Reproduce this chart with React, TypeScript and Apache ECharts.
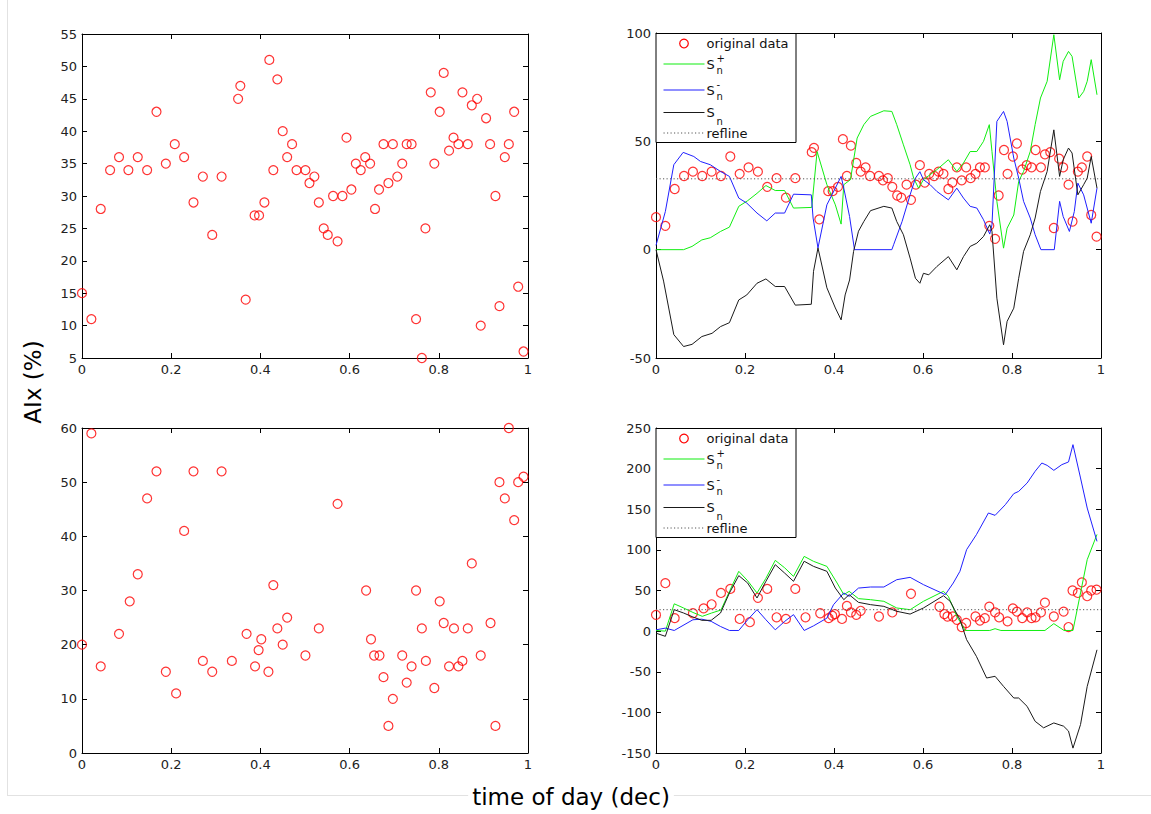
import React, { useEffect, useRef } from "react";
import * as echarts from "echarts";

// ---------- data: day 1 (top row) ----------
const t1 = [0, 0.021, 0.042, 0.063, 0.083, 0.104, 0.125, 0.146, 0.167, 0.188, 0.208, 0.229, 0.25, 0.271, 0.292, 0.313, 0.35, 0.355, 0.367, 0.387, 0.397, 0.409, 0.42, 0.429, 0.438, 0.45, 0.46, 0.471, 0.481, 0.501, 0.51, 0.521, 0.531, 0.542, 0.551, 0.563, 0.573, 0.584, 0.593, 0.604, 0.614, 0.625, 0.635, 0.646, 0.657, 0.666, 0.676, 0.687, 0.697, 0.707, 0.718, 0.728, 0.739, 0.749, 0.762, 0.77, 0.782, 0.79, 0.802, 0.811, 0.823, 0.833, 0.844, 0.853, 0.865, 0.874, 0.886, 0.894, 0.906, 0.915, 0.927, 0.936, 0.948, 0.957, 0.969, 0.978, 0.99];
const aix1 = [15, 11, 28, 34, 36, 34, 36, 34, 43, 35, 38, 36, 29, 33, 24, 33, 45, 47, 14, 27, 27, 29, 51, 34, 48, 40, 36, 38, 34, 34, 32, 33, 29, 25, 24, 30, 23, 30, 39, 31, 35, 34, 36, 35, 28, 31, 38, 32, 38, 33, 35, 38, 38, 11, 5, 25, 46, 35, 43, 49, 37, 39, 38, 46, 38, 44, 45, 10, 42, 38, 30, 13, 36, 38, 43, 16, 6];
const ref1 = 32.7;

const sPlus1X = [0, 0.062, 0.081, 0.103, 0.122, 0.145, 0.165, 0.186, 0.206, 0.227, 0.247, 0.268, 0.289, 0.309, 0.35, 0.362, 0.384, 0.403, 0.416, 0.422, 0.437, 0.452, 0.467, 0.482, 0.512, 0.53, 0.541, 0.556, 0.571, 0.579, 0.59, 0.601, 0.616, 0.631, 0.657, 0.676, 0.691, 0.706, 0.721, 0.736, 0.749, 0.755, 0.766, 0.781, 0.789, 0.804, 0.815, 0.826, 0.841, 0.852, 0.864, 0.879, 0.894, 0.907, 0.915, 0.927, 0.935, 0.95, 0.961, 0.969, 0.978, 0.991];
const sPlus1Y = [0, 0, 1.5, 4.5, 5.5, 8.4, 10.4, 20, 22.6, 26, 29.6, 27.3, 27.3, 19.2, 19.5, 45.3, 30, 20.7, 11.8, 30, 32.3, 51.5, 57.7, 61.5, 64.1, 63.8, 57.7, 48.4, 39.2, 33, 28.4, 32.3, 34.6, 36.9, 41.5, 36.1, 40, 45.3, 45.3, 50, 57.7, 45.3, 22.3, 0.7, 9.9, 16, 31.5, 36.1, 45.3, 57.7, 70, 77.7, 99.2, 78.4, 86.9, 91.5, 89.2, 70, 73, 77.7, 87.7, 71.5];

const sMinus1X = [0, 0.021, 0.04, 0.061, 0.085, 0.1, 0.122, 0.145, 0.165, 0.186, 0.204, 0.227, 0.249, 0.268, 0.289, 0.309, 0.349, 0.353, 0.364, 0.384, 0.403, 0.416, 0.422, 0.435, 0.446, 0.53, 0.534, 0.553, 0.571, 0.583, 0.593, 0.601, 0.616, 0.631, 0.657, 0.676, 0.691, 0.706, 0.721, 0.736, 0.75, 0.755, 0.766, 0.781, 0.789, 0.804, 0.815, 0.826, 0.841, 0.852, 0.865, 0.895, 0.907, 0.915, 0.929, 0.94, 0.948, 0.961, 0.978, 0.991];
const sMinus1Y = [2, 17.6, 39.2, 44.9, 43, 40.7, 39.2, 36.1, 33.8, 23.8, 21.5, 16.9, 13.3, 16.9, 16.9, 25.6, 25.3, 14.6, 0.8, 20.7, 28.4, 33.8, 28.4, 15.3, 0, 0, 2.3, 13, 25.3, 33, 36, 32.3, 30, 26.9, 23, 28.4, 23.8, 20, 19.2, 13.8, 7.2, 11.5, 59.2, 63.8, 59.2, 42.3, 33, 22.3, 14.6, 6.9, 0, 0, 22.3, 15.3, 8.4, 17.6, 30.7, 25.3, 12.2, 28.4];

const sN1X = [0, 0.017, 0.04, 0.062, 0.081, 0.103, 0.126, 0.145, 0.165, 0.186, 0.204, 0.227, 0.247, 0.268, 0.289, 0.313, 0.349, 0.354, 0.364, 0.384, 0.403, 0.416, 0.425, 0.435, 0.444, 0.455, 0.467, 0.482, 0.512, 0.53, 0.541, 0.556, 0.571, 0.583, 0.593, 0.601, 0.613, 0.631, 0.657, 0.676, 0.691, 0.706, 0.721, 0.736, 0.75, 0.755, 0.766, 0.781, 0.789, 0.804, 0.815, 0.826, 0.841, 0.852, 0.864, 0.879, 0.894, 0.907, 0.915, 0.927, 0.935, 0.948, 0.961, 0.969, 0.978, 0.991];
const sN1Y = [0, -14.5, -39.2, -44.7, -43.7, -40.1, -38.6, -35.5, -33.7, -23.2, -20.9, -15.5, -13.5, -17, -17, -25.6, -25.2, -10, 0.8, -17.6, -26.9, -32.4, -20.9, -14, -0.8, 8.5, 13, 18, 20, 19.2, 13, 6.9, -3.9, -13.2, -15.5, -10.9, -11.6, -7.8, -3.2, -9.3, -3.2, 1.5, 3, 6.1, 11.5, 8.5, -22.4, -43.9, -33.1, -27, -13.2, -0.8, 6.9, 14.6, 26.9, 36.1, 55.3, 33.8, 41.5, 46.9, 44.6, 25.3, 30, 33, 43, 28.4];

// ---------- data: day 2 (bottom row) ----------
const t2 = [0, 0.021, 0.042, 0.083, 0.107, 0.125, 0.146, 0.167, 0.188, 0.211, 0.229, 0.25, 0.271, 0.292, 0.313, 0.336, 0.369, 0.388, 0.396, 0.402, 0.418, 0.429, 0.438, 0.45, 0.46, 0.501, 0.531, 0.573, 0.637, 0.648, 0.655, 0.667, 0.676, 0.687, 0.697, 0.718, 0.728, 0.739, 0.749, 0.762, 0.771, 0.79, 0.802, 0.811, 0.823, 0.834, 0.844, 0.853, 0.865, 0.874, 0.894, 0.916, 0.927, 0.936, 0.948, 0.957, 0.969, 0.978, 0.99];
const aix2 = [20, 59, 16, 22, 28, 33, 47, 52, 15, 11, 41, 52, 17, 15, 52, 17, 22, 16, 19, 21, 15, 31, 23, 20, 25, 18, 23, 46, 30, 21, 18, 18, 14, 5, 10, 18, 13, 16, 30, 23, 17, 12, 28, 24, 16, 23, 16, 17, 23, 35, 18, 24, 5, 50, 47, 60, 43, 50, 51];
const ref2 = 26.4;

const sPlus2X = [0, 0.021, 0.041, 0.062, 0.083, 0.104, 0.125, 0.146, 0.166, 0.186, 0.206, 0.227, 0.247, 0.268, 0.289, 0.309, 0.333, 0.354, 0.384, 0.407, 0.422, 0.434, 0.455, 0.482, 0.512, 0.541, 0.571, 0.601, 0.646, 0.657, 0.676, 0.695, 0.75, 0.762, 0.775, 0.874, 0.894, 0.917, 0.937, 0.954, 0.969, 0.991];
const sPlus2Y = [0.8, 0, 33.6, 28.5, 23, 18.2, 22.3, 26, 50, 73.6, 62, 46.9, 65, 87.1, 78, 67.4, 92, 85.9, 79.7, 59.2, 44.9, 49, 40, 38.7, 36.7, 28.5, 26.4, 36.7, 49, 42.8, 18.2, 0.8, 0.8, 3, 0.8, 0.8, 9.2, 0.8, 0.8, 47, 88, 119];

const sMinus2X = [0, 0.021, 0.041, 0.083, 0.103, 0.124, 0.145, 0.165, 0.186, 0.206, 0.227, 0.247, 0.268, 0.289, 0.309, 0.333, 0.354, 0.384, 0.399, 0.422, 0.434, 0.455, 0.482, 0.512, 0.541, 0.571, 0.601, 0.65, 0.668, 0.683, 0.698, 0.72, 0.747, 0.762, 0.785, 0.804, 0.815, 0.834, 0.852, 0.867, 0.879, 0.894, 0.912, 0.927, 0.937, 0.954, 0.969, 0.991];
const sMinus2Y = [1.6, 3.7, 0.8, 14, 14.7, 12, 5.7, 0.8, 0.8, 14, 26.4, 14, 1.6, 11.9, 20.3, 0.8, 6.5, 16, 32.6, 47, 42.8, 53, 54.3, 54.3, 63.3, 66.2, 57.2, 44.9, 59.2, 73.6, 100.3, 118.7, 145.4, 142.5, 155.6, 169.2, 172, 182.3, 196.7, 206.9, 204, 197.9, 204.9, 208.2, 229.5, 188.5, 151.5, 110.5];

const sN2X = [0, 0.021, 0.041, 0.062, 0.083, 0.103, 0.124, 0.145, 0.165, 0.186, 0.206, 0.227, 0.247, 0.268, 0.289, 0.309, 0.333, 0.354, 0.384, 0.403, 0.422, 0.434, 0.455, 0.482, 0.512, 0.541, 0.571, 0.601, 0.646, 0.661, 0.683, 0.698, 0.72, 0.743, 0.762, 0.781, 0.804, 0.815, 0.834, 0.852, 0.871, 0.894, 0.916, 0.927, 0.937, 0.954, 0.969, 0.991];
const sN2Y = [-2.5, -6.4, 26.4, 22.3, 17.4, 13.3, 13.3, 22.3, 47, 68.3, 59.2, 40.8, 61.3, 81.8, 71.5, 61.3, 86, 79.7, 73.6, 53, 38.7, 44.9, 35.4, 32.6, 30.5, 24.4, 21, 28.5, 43.6, 36.7, 14.1, -10.5, -31, -57.7, -55.6, -68, -82.3, -82.3, -92.6, -111, -119, -113, -117, -123, -144, -115, -68, -23];

// ---------- axes ----------
const xTicks = { min: 0, max: 1, interval: 0.2 };
const yRanges = [
  { min: 5, max: 55, interval: 5 },
  { min: -50, max: 100, interval: 50 },
  { min: 0, max: 60, interval: 10 },
  { min: -150, max: 250, interval: 50 },
];
const grids = [
  { left: 82, top: 34, width: 446, height: 324 },
  { left: 656, top: 33, width: 445, height: 325 },
  { left: 82, top: 428, width: 446, height: 325 },
  { left: 656, top: 428, width: 445, height: 325 },
];

const FONT = "DejaVu Sans";
const zip = (xs: number[], ys: number[]) => xs.map((x, i) => [x, ys[i]]);
const fmt = (v: number) => String(Math.round(v * 10) / 10);

function buildOption() {
  const GREEN = "#11ee11";
  const BLUE = "#2020ff";
  const BLACK = "#1a1a1a";

  const xAxis: any[] = [];
  const yAxis: any[] = [];
  const base = (gi: number) => ({
    type: "value",
    gridIndex: gi,
    splitLine: { show: false },
    axisLine: { show: true, onZero: false, lineStyle: { color: "#000", width: 1 } },
    axisTick: { show: true, inside: true, length: 5, lineStyle: { color: "#000", width: 1 } },
  });
  for (let i = 0; i < 4; i++) {
    xAxis.push({
      ...base(i), ...xTicks, position: "bottom",
      axisLabel: { margin: 5, color: "#222", fontSize: 13, fontFamily: FONT, formatter: fmt, showMinLabel: true, showMaxLabel: true },
    });
    yAxis.push({
      ...base(i), ...yRanges[i], position: "left",
      axisLabel: { margin: 5, color: "#222", fontSize: 13, fontFamily: FONT, showMinLabel: true, showMaxLabel: true },
    });
  }
  for (let i = 0; i < 4; i++) {
    xAxis.push({ ...base(i), ...xTicks, position: "top", axisLabel: { show: false } });
    yAxis.push({ ...base(i), ...yRanges[i], position: "right", axisLabel: { show: false } });
  }

  const scatter = (gi: number, xs: number[], ys: number[]) => ({
    type: "scatter", xAxisIndex: gi, yAxisIndex: gi,
    data: zip(xs, ys), symbol: "circle", symbolSize: 9,
    itemStyle: { color: "rgba(0,0,0,0)", borderColor: "#ff0000", borderWidth: 1.2 },
    z: 2,
  });
  const line = (gi: number, xs: number[], ys: number[], color: string) => ({
    type: "line", xAxisIndex: gi, yAxisIndex: gi, data: zip(xs, ys),
    symbol: "none", showSymbol: false, lineStyle: { color, width: 1 }, z: 3,
  });
  const refLine = (gi: number, v: number) => ({
    type: "line", xAxisIndex: gi, yAxisIndex: gi, data: [[0, v], [1, v]],
    symbol: "none", showSymbol: false, lineStyle: { color: "#555", width: 1, type: [1.2, 2.3] }, z: 3,
  });

  const series = [
    scatter(0, t1, aix1),
    scatter(1, t1, aix1),
    line(1, sPlus1X, sPlus1Y, GREEN),
    line(1, sMinus1X, sMinus1Y, BLUE),
    line(1, sN1X, sN1Y, BLACK),
    refLine(1, ref1),
    scatter(2, t2, aix2),
    scatter(3, t2, aix2),
    line(3, sPlus2X, sPlus2Y, GREEN),
    line(3, sMinus2X, sMinus2Y, BLUE),
    line(3, sN2X, sN2Y, BLACK),
    refLine(3, ref2),
  ];

  let uid = 0;
  const nid = () => "g" + uid++;
  const txt = (x: number, y: number, text: string, size: number) => ({
    type: "text", id: nid(), x, y, z: 101,
    style: { text, fontSize: size, fontFamily: FONT, fill: "#111", align: "left", verticalAlign: "middle", textAlign: "left", textVerticalAlign: "middle" },
  });
  const seg = (x1: number, y: number, x2: number, stroke: string, dash?: number[]) => ({
    type: "line", id: nid(), z: 102,
    shape: { x1, y1: y, x2, y2: y },
    style: { stroke, fill: "none", lineWidth: 1.2, ...(dash ? { lineDash: dash, lineWidth: 1 } : {}) },
  });
  const legend = (left: number, top: number) => {
    const els: any[] = [];
    els.push({ type: "rect", id: nid(), z: 100, shape: { x: left + 0.5, y: top + 0.5, width: 140, height: 109 }, style: { fill: "#fff", stroke: "#000", lineWidth: 1 } });
    els.push({ type: "circle", id: nid(), z: 101, shape: { cx: left + 28.5, cy: top + 10.5, r: 4.3 }, style: { fill: "none", stroke: "#ff0000", lineWidth: 1.2 } });
    els.push(txt(left + 51, top + 10.5, "original data", 13));
    els.push(seg(left + 8, top + 31, left + 49, "#11ee11"));
    els.push(txt(left + 51, top + 31, "S", 13));
    els.push(txt(left + 61, top + 25.5, "+", 10));
    els.push(txt(left + 61, top + 37.5, "n", 10));
    els.push(seg(left + 8, top + 57, left + 49, "#2020ff"));
    els.push(txt(left + 51, top + 57, "S", 13));
    els.push(txt(left + 61, top + 51.5, "-", 10));
    els.push(txt(left + 61, top + 63.5, "n", 10));
    els.push(seg(left + 8, top + 79.5, left + 49, "#1a1a1a"));
    els.push(txt(left + 51, top + 79.5, "S", 13));
    els.push(txt(left + 61, top + 88.5, "n", 10));
    els.push(seg(left + 8, top + 100, left + 49, "#555555", [1.2, 2.3]));
    els.push(txt(left + 51, top + 100, "refline", 13));
    return els;
  };

  const graphic: any[] = [
    { type: "rect", id: nid(), z: 0, shape: { x: 7, y: 0, width: 1, height: 796 }, style: { fill: "#e2e2e2" } },
    { type: "rect", id: nid(), z: 0, shape: { x: 7, y: 795, width: 1144, height: 1 }, style: { fill: "#e2e2e2" } },
    ...legend(655.5, 428),
    ...legend(655.5, 33),
    {
      type: "text", id: nid(), x: 33, y: 382, rotation: Math.PI / 2, z: 101,
      style: { text: "AIx (%)", fontSize: 23, fontFamily: FONT, fill: "#000", align: "center", verticalAlign: "middle", textAlign: "center", textVerticalAlign: "middle" },
    },
    {
      type: "text", id: nid(), x: 571, y: 797, z: 101,
      style: { text: "time of day (dec)", fontSize: 23, fontFamily: FONT, fill: "#000", align: "center", verticalAlign: "middle", textAlign: "center", textVerticalAlign: "middle", backgroundColor: "#fff", padding: [2, 4] },
    },
  ];

  return {
    animation: false,
    backgroundColor: "#fff",
    grid: grids.map((g) => ({ ...g, containLabel: false })),
    xAxis,
    yAxis,
    series,
    graphic,
  };
}

export default function App() {
  const ref = useRef<HTMLDivElement>(null);
  useEffect(() => {
    if (!ref.current) return;
    const chart = echarts.init(ref.current, null, { renderer: "svg" });
    chart.setOption(buildOption() as any);
    return () => chart.dispose();
  }, []);
  return (
    <div
      ref={ref}
      style={{ position: "absolute", left: 0, top: 0, width: 1151, height: 814, background: "#fff" }}
    />
  );
}
